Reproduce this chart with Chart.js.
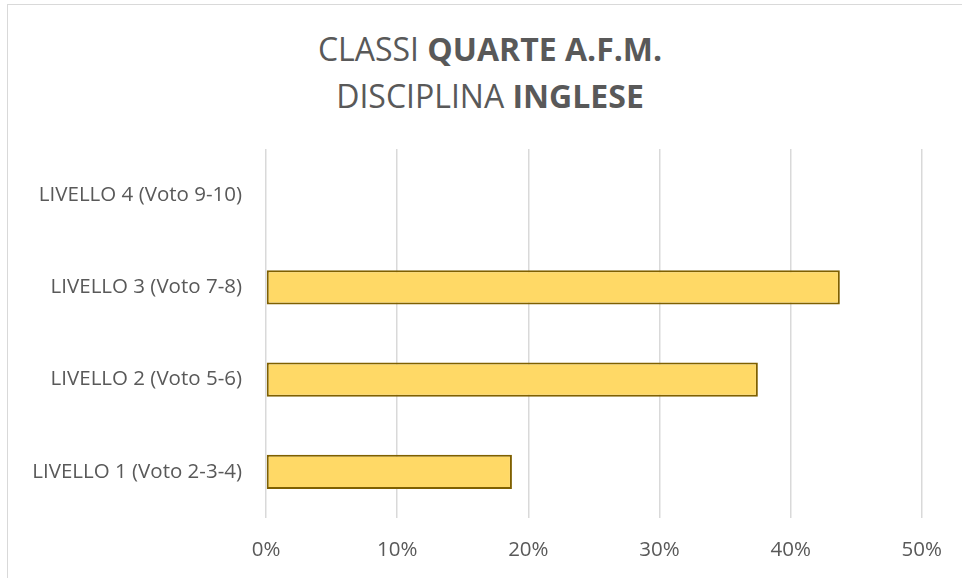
<!DOCTYPE html>
<html lang="it">

<head>
    <meta charset="UTF-8">
    <title>Classi quarte A.F.M. - Inglese</title>
    <style>
        html, body {
            margin: 0;
            padding: 0;
            background: #fff;
            overflow: hidden;
        }

        #frame {
            position: absolute;
            left: 7px;
            top: 4px;
            width: 1000px;
            height: 620px;
            border: 1.5px solid #d9d9d9;
        }

        #title {
            position: absolute;
            left: 0;
            top: 25px;
            width: 980px;
            text-align: center;
            color: #595959;
            font-family: "Open Sans", sans-serif;
            font-size: 32px;
            line-height: 47px;
        }

        #wrap {
            position: absolute;
            left: 0;
            top: 0;
            width: 962px;
            height: 578px;
        }
    </style>
</head>

<body>
    <div id="frame"></div>
    <div id="title">
        <div>CLASSI <b>QUARTE A.F.M.</b></div>
        <div>DISCIPLINA <b>INGLESE</b></div>
    </div>
    <div id="wrap">
        <canvas id="chart"></canvas>
    </div>
    <script src="https://cdn.jsdelivr.net/npm/chart.js"></script>
    <script>
    // data, bottom to top as in the sheet
    const levels = ['LIVELLO 1 (Voto 2-3-4)', 'LIVELLO 2 (Voto 5-6)', 'LIVELLO 3 (Voto 7-8)', 'LIVELLO 4 (Voto 9-10)'];
    const shares = [0.1875, 0.375, 0.4375, 0];
    const axisTicks = [0, 0.1, 0.2, 0.3, 0.4, 0.5];

    const grey = '#595959';
    const font = { family: '"Open Sans", sans-serif', size: 20.5 };

    const ctx = document.getElementById('chart').getContext('2d');
    const chart = new Chart(ctx, {
        type: 'bar',
        data: {
            labels: levels,
            datasets: [{
                data: shares,
                backgroundColor: '#ffd966',
                borderColor: '#7f6000',
                borderWidth: 2,
                borderSkipped: false,
                categoryPercentage: 1,
                barPercentage: 0.37
            }]
        },
        options: {
            indexAxis: 'y',
            responsive: true,
            maintainAspectRatio: false,
            animation: false,
            layout: {
                padding: { top: 149, right: 40, bottom: 0, left: 0 }
            },
            plugins: {
                legend: { display: false },
                tooltip: { enabled: false }
            },
            scales: {
                x: {
                    min: 0,
                    max: 0.5,
                    afterBuildTicks: scale => {
                        scale.ticks = axisTicks.map(v => ({ value: v }));
                    },
                    afterFit: scale => { scale.height = 60; },
                    border: { display: false },
                    grid: { color: '#d9d9d9', lineWidth: 1.5, drawTicks: false },
                    ticks: {
                        color: grey,
                        font: font,
                        padding: 20,
                        callback: v => Math.round(v * 100) + '%'
                    }
                },
                y: {
                    reverse: true,
                    afterFit: scale => { scale.width = 266; },
                    border: { display: false },
                    grid: { display: false },
                    ticks: { color: grey, font: font, padding: 16 }
                }
            }
        }
    });
    </script>
</body>

</html>
